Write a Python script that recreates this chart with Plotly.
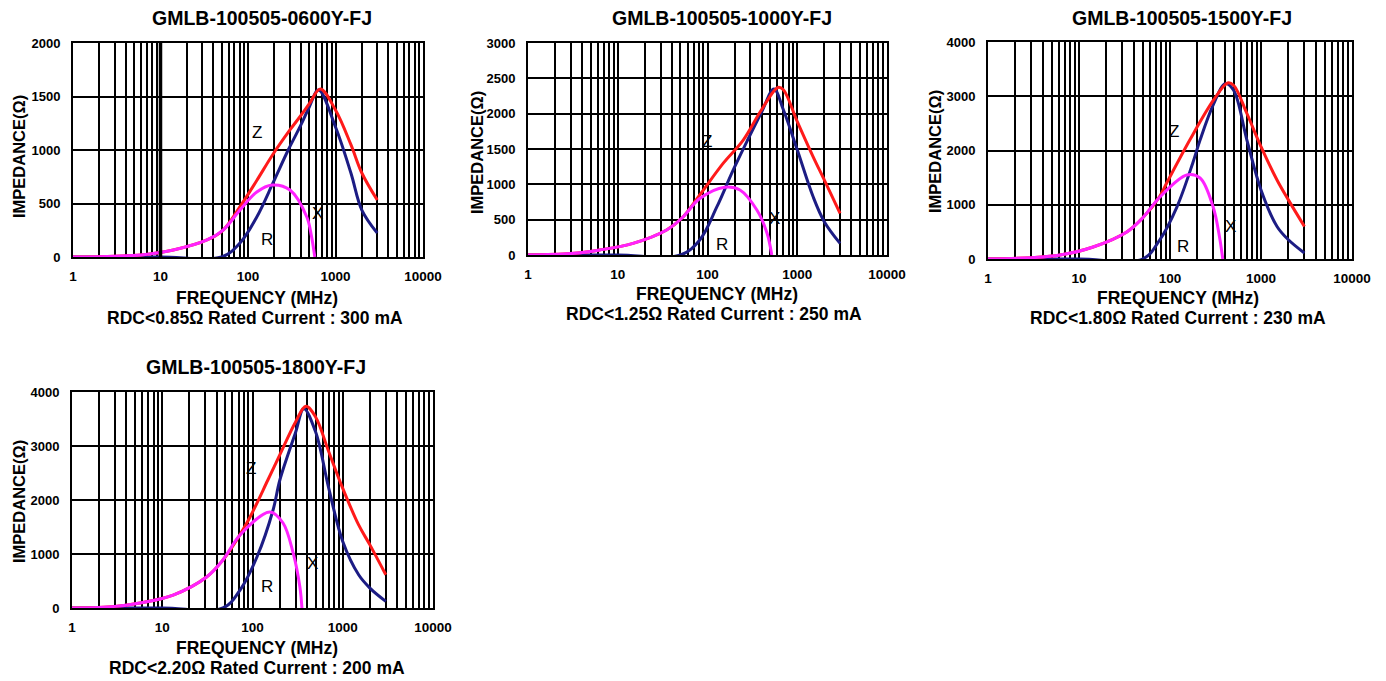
import math
import plotly.graph_objects as go

# ---------------- data ----------------
titles = ["GMLB-100505-0600Y-FJ", "GMLB-100505-1000Y-FJ", "GMLB-100505-1500Y-FJ", "GMLB-100505-1800Y-FJ"]
subtitles = ["RDC<0.85Ω Rated Current : 300 mA", "RDC<1.25Ω Rated Current : 250 mA",
             "RDC<1.80Ω Rated Current : 230 mA", "RDC<2.20Ω Rated Current : 200 mA"]
y_max = [2000, 3000, 4000, 4000]
y_dtick = [500, 500, 1000, 1000]
x_tickvals = [1, 10, 100, 1000, 10000]
x_ticktext = ["1", "10", "100", "1000", "10000"]

# panel 1 : 0600
r1_f = [1, 3, 6, 14, 34, 52, 81, 126, 188, 302, 470, 530, 580]
r1_v = [0, 8, 19, 65, 159, 252, 439, 607, 673, 626, 374, 200, 0]
x1_f = [1, 10, 50, 81, 126, 193, 288, 400, 500, 640, 1000, 1500, 2000, 3000]
x1_v = [0, 0, 0, 131, 374, 692, 1000, 1230, 1400, 1561, 1215, 785, 439, 224]
z1_f = [1, 3, 6, 14, 34, 52, 81, 126, 193, 300, 400, 500, 670, 1000, 1500, 2000, 3000]
z1_v = [0, 8, 19, 65, 159, 252, 470, 715, 960, 1185, 1320, 1430, 1570, 1374, 1050, 785, 533]

# panel 2 : 1000
r2_f = [1, 3, 6.3, 14.8, 35, 53, 82, 156, 230, 355, 460, 520]
r2_v = [0, 20, 71, 165, 354, 534, 800, 960, 920, 636, 311, 0]
x2_f = [1, 10, 50, 82, 127, 193, 280, 400, 550, 700, 1000, 1500, 2000, 3000]
x2_v = [0, 0, 0, 212, 680, 1200, 1627, 2020, 2348, 2055, 1488, 827, 472, 165]
z2_f = [1, 3, 6.3, 14.8, 35, 53, 82, 150, 250, 400, 610, 700, 1000, 1500, 2000, 3000]
z2_v = [0, 20, 71, 165, 354, 534, 850, 1300, 1627, 2055, 2371, 2338, 1889, 1393, 1063, 590]

# panel 3 : 1500
r3_f = [1, 3, 6.2, 14.3, 33.5, 50, 77.5, 153, 214, 298, 350, 380]
r3_v = [0, 25, 74, 221, 498, 756, 1143, 1548, 1493, 958, 406, 0]
x3_f = [1, 10, 50, 77, 119, 178, 214, 300, 405, 500, 700, 1000, 1500, 2000, 3000]
x3_v = [0, 0, 0, 350, 958, 1770, 2193, 2850, 3233, 3111, 2192, 1274, 600, 355, 110]
z3_f = [1, 3, 6.2, 14.3, 33.5, 50, 77.5, 92, 165, 300, 430, 500, 700, 1000, 1500, 2000, 3000]
z3_v = [0, 25, 74, 221, 498, 756, 1160, 1400, 2193, 2927, 3245, 3203, 2682, 2070, 1457, 1090, 600]

# panel 4 : 1800
r4_f = [1, 3, 5.66, 13.2, 31, 47, 72.8, 156, 218, 282, 335, 353]
r4_v = [0, 30, 93, 240, 574, 889, 1352, 1778, 1574, 1019, 389, 0]
x4_f = [1, 10, 47, 72.8, 112, 169, 201, 300, 370, 500, 700, 1000, 1500, 2000, 3000]
x4_v = [0, 0, 0, 333, 944, 1815, 2370, 3250, 3692, 3262, 2215, 1231, 615, 369, 123]
z4_f = [1, 3, 5.66, 13.2, 31, 47, 72.8, 94, 148, 200, 300, 390, 500, 700, 1000, 1500, 2000, 3000]
z4_v = [0, 30, 93, 240, 574, 889, 1360, 1685, 2370, 2830, 3446, 3735, 3538, 2892, 2215, 1538, 1169, 615]

# curve label positions (freq, impedance)
lbl_z = [(126, 1160), (98, 1606), (110, 2345), (96, 2585)]
lbl_x = [(630, 411), (560, 520), (465, 600), (460, 830)]
lbl_r = [(165, 159), (144, 142), (138, 233), (144, 400)]

panels = [
    (r1_f, r1_v, x1_f, x1_v, z1_f, z1_v),
    (r2_f, r2_v, x2_f, x2_v, z2_f, z2_v),
    (r3_f, r3_v, x3_f, x3_v, z3_f, z3_v),
    (r4_f, r4_v, x4_f, x4_v, z4_f, z4_v),
]

# ---------------- layout geometry (window pixels) ----------------
OFF = 8                      # page body margin
W, H = 1386 - OFF, 681 - OFF
boxes = [(73, 423, 43, 257), (528, 887, 43, 255), (988, 1352, 42, 259), (72, 433, 392, 608)]
title_pos = [(262, 18), (722, 18), (1182, 18), (256, 367)]
freq_pos = [(257, 298), (717, 294), (1178, 298), (257, 648)]
rdc_pos = [(255, 318), (714, 314), (1178, 318), (257, 668)]
imp_pos = [(19, 157), (477, 153), (935, 152), (19, 502)]

FONT = "Liberation Sans, Arial, sans-serif"
minor_vals = [m * 10 ** d for d in range(4) for m in range(2, 10)]

fig = go.Figure()
annotations = []
shapes = []


def px(x):
    return (x - OFF) / W


def py(y):
    return 1 - (y - OFF) / H


for i, (rf, rv, xf, xv, zf, zv) in enumerate(panels):
    k = "" if i == 0 else str(i + 1)
    xa, ya = "x" + k, "y" + k
    fig.add_trace(go.Scatter(x=xf, y=xv, mode="lines", line=dict(color="#1c1c84", width=3, shape="spline", smoothing=1.0),
                             xaxis=xa, yaxis=ya, showlegend=False, hoverinfo="skip"))
    fig.add_trace(go.Scatter(x=zf, y=zv, mode="lines", line=dict(color="#ff1a1a", width=3, shape="spline", smoothing=1.0),
                             xaxis=xa, yaxis=ya, showlegend=False, hoverinfo="skip"))
    fig.add_trace(go.Scatter(x=rf, y=rv, mode="lines", line=dict(color="#ff22ff", width=3, shape="spline", smoothing=1.0),
                             xaxis=xa, yaxis=ya, showlegend=False, hoverinfo="skip"))
    x0, x1, y0, y1 = boxes[i]
    fig.layout["xaxis" + k] = dict(
        type="log", range=[0, 4], domain=[px(x0), px(x1)], anchor=ya, automargin=False,
        tickvals=x_tickvals, ticktext=x_ticktext,
        showgrid=True, gridcolor="black", gridwidth=1.6,
        minor=dict(tickvals=minor_vals, showgrid=True, gridcolor="black", gridwidth=1.6, ticks=""),
        showline=True, mirror=True, linecolor="black", linewidth=2,
        tickfont=dict(family=FONT, size=13.5, color="black", weight="bold"),
        ticks="", ticklabelstandoff=6, zeroline=False, fixedrange=True,
    )
    fig.layout["yaxis" + k] = dict(
        range=[0, y_max[i]], dtick=y_dtick[i], domain=[py(y1), py(y0)], anchor=xa, automargin=False,
        showgrid=True, gridcolor="black", gridwidth=1.6,
        showline=True, mirror=True, linecolor="black", linewidth=2,
        tickfont=dict(family=FONT, size=13, color="black", weight="bold"),
        ticks="", ticklabelstandoff=8, zeroline=False, fixedrange=True,
    )
    annotations.append(dict(x=px(title_pos[i][0]), y=py(title_pos[i][1]), xref="paper", yref="paper",
                            text=titles[i], showarrow=False, xanchor="center", yanchor="middle",
                            font=dict(family=FONT, size=19.5, color="black", weight="bold")))
    annotations.append(dict(x=px(freq_pos[i][0]), y=py(freq_pos[i][1]), xref="paper", yref="paper",
                            text="FREQUENCY (MHz)", showarrow=False, xanchor="center", yanchor="middle",
                            font=dict(family=FONT, size=17.5, color="black", weight="bold")))
    annotations.append(dict(x=px(rdc_pos[i][0]), y=py(rdc_pos[i][1]), xref="paper", yref="paper",
                            text=subtitles[i], showarrow=False, xanchor="center", yanchor="middle",
                            font=dict(family=FONT, size=17.5, color="black", weight="bold")))
    annotations.append(dict(x=px(imp_pos[i][0]), y=py(imp_pos[i][1]), xref="paper", yref="paper",
                            text="IMPEDANCE(Ω)", showarrow=False, textangle=-90, xanchor="center", yanchor="middle",
                            font=dict(family=FONT, size=16.5, color="black", weight="bold")))
    for (lf, lv), t in zip([lbl_z[i], lbl_x[i], lbl_r[i]], ["Z", "X", "R"]):
        annotations.append(dict(x=math.log10(lf), y=lv, xref=xa, yref=ya, text=t, showarrow=False,
                                xanchor="center", yanchor="middle",
                                font=dict(family=FONT, size=17, color="black")))

# thicker grid line at 10 MHz on first panel
shapes.append(dict(type="line", xref="x", yref="y domain", x0=10, x1=10, y0=0, y1=1,
                   line=dict(color="black", width=3.5), layer="above"))

fig.update_layout(
    width=W, height=H, margin=dict(l=0, r=0, t=0, b=0, autoexpand=False),
    paper_bgcolor="white", plot_bgcolor="white",
    annotations=annotations, shapes=shapes, showlegend=False,
)

fig.write_html("out.html")
